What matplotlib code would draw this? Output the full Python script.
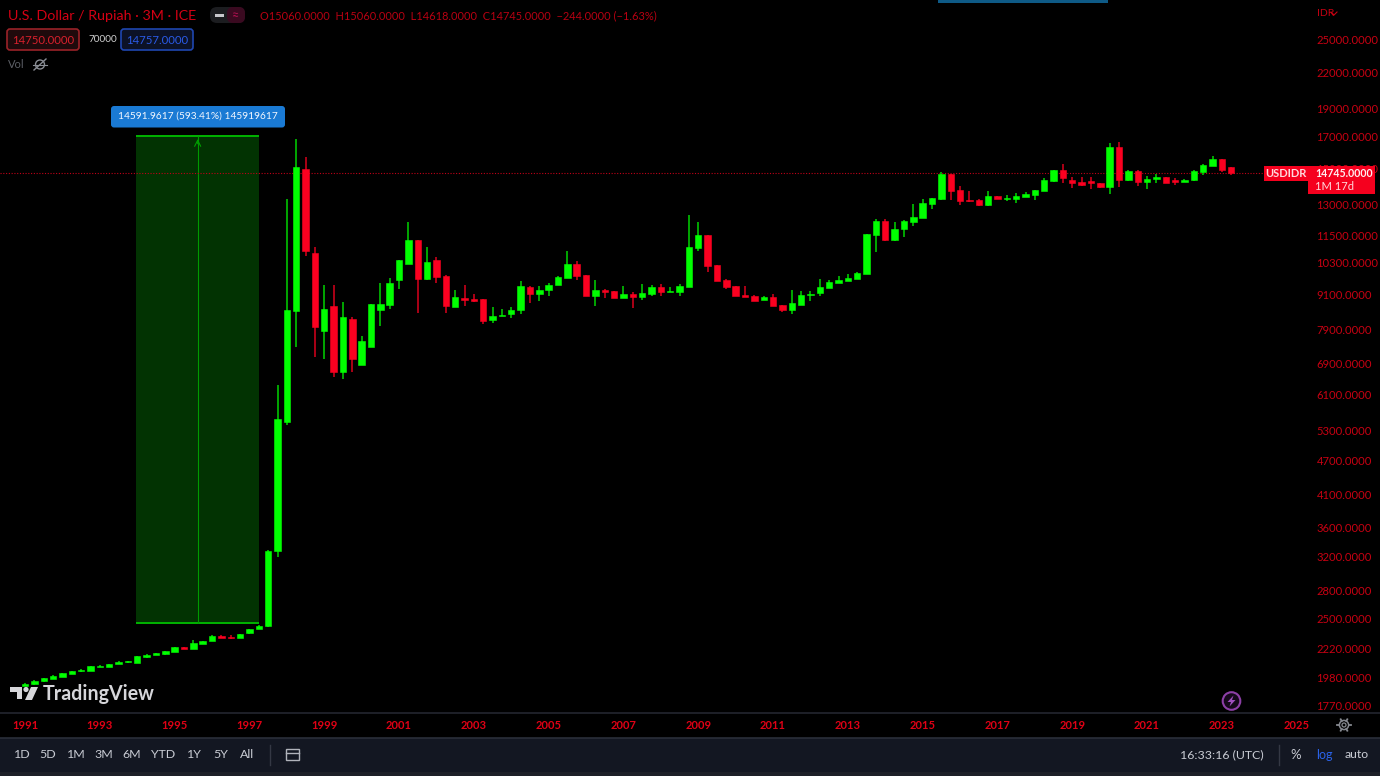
import numpy as np
import matplotlib
matplotlib.use("Agg")
import matplotlib.pyplot as plt
from matplotlib.patches import Rectangle, FancyBboxPatch, Circle, Polygon

plt.rcParams['font.family'] = ['Lato', 'DejaVu Sans']

# quarterly USDIDR candles, first one is 1991 Q1
firstYear = 1991
opens = [1915, 1927, 1950, 1968, 1985, 2012, 2030, 2035, 2065, 2066,
         2092, 2106, 2100, 2145, 2170, 2172, 2192, 2232, 2222, 2262,
         2288, 2340, 2326, 2316, 2360, 2400, 2432, 3270, 5480, 8508,
         14948, 10717, 7866, 8680, 6675, 8241, 6854, 7383, 8541, 8722,
         9623, 10268, 11283, 9673, 10408, 9780, 8645, 8970, 8934, 8912,
         8218, 8340, 8419, 8541, 9372, 9115, 9237, 9425, 9700, 10256,
         9807, 9032, 9248, 9212, 8948, 9115, 8984, 9104, 9372, 9165,
         9187, 9372, 10918, 11525, 10215, 9623, 9410, 9068, 9032, 8877,
         8984, 8702, 8531, 8712, 9068, 9140, 9342, 9522, 9585, 9662,
         9858, 11497, 12156, 11297, 11775, 12122, 12317, 13021, 13265, 14657,
         13750, 13245, 13213, 12973, 13445, 13283, 13283, 13391, 13512, 13696,
         14269, 14889, 14354, 14213, 14252, 14140, 13951, 16316, 14325, 14865,
         14230, 14383, 14499, 14325, 14230, 14325, 14807, 15148, 15555, 15060]
closes = [1932, 1955, 1975, 1995, 2018, 2032, 2042, 2070, 2075, 2090,
          2110, 2113, 2155, 2170, 2180, 2198, 2232, 2222, 2268, 2288,
          2340, 2322, 2314, 2352, 2400, 2432, 3270, 5540, 8540, 15070,
          10815, 7974, 8575, 6675, 8297, 7020, 7559, 8737, 8757, 9510,
          10408, 11283, 9650, 10338, 9753, 8690, 8984, 8898, 8852, 8176,
          8340, 8376, 8541, 9398, 9115, 9260, 9447, 9753, 10268, 9792,
          9022, 9237, 9176, 8959, 9104, 8995, 9140, 9372, 9176, 9212,
          9398, 10975, 11525, 10165, 9585, 9360, 9022, 8995, 8862, 8984,
          8680, 8531, 8772, 9057, 9115, 9372, 9567, 9623, 9700, 9909,
          11543, 12170, 11297, 11803, 12170, 12366, 13057, 13321, 14657, 13712,
          13193, 13162, 12973, 13445, 13283, 13337, 13445, 13553, 13750, 14308,
          14889, 14441, 14174, 14062, 14140, 13951, 16316, 14325, 14865, 14230,
          14400, 14499, 14174, 14230, 14342, 14848, 15208, 15555, 14924, 14745]
highs = [1935, 1958, 1978, 1998, 2020, 2034, 2048, 2072, 2082, 2092,
         2112, 2118, 2157, 2172, 2184, 2200, 2235, 2234, 2300, 2290,
         2342, 2342, 2345, 2354, 2402, 2445, 3290, 6340, 13260, 16860,
         15710, 10960, 9435, 9435, 8817, 8297, 7690, 8737, 9510, 9690,
         10408, 12108, 11283, 10960, 10560, 9820, 9248, 9435, 9104, 8912,
         8655, 8586, 8655, 9575, 9398, 9387, 9500, 9780, 10800, 10391,
         9807, 9623, 9285, 9212, 9387, 9165, 9485, 9425, 9485, 9349,
         9485, 12480, 12108, 11525, 10215, 9650, 9410, 9387, 9068, 9022,
         9093, 8702, 9248, 9222, 9222, 9650, 9611, 9780, 9870, 9936,
         11571, 12253, 12253, 12122, 12218, 13007, 13265, 13353, 14773, 14692,
         14006, 13696, 13265, 13728, 13445, 13499, 13588, 13642, 13783, 14424,
         14924, 15249, 14482, 14482, 14500, 14140, 16580, 16685, 14906, 14906,
         14557, 14657, 14516, 14441, 14383, 14906, 15269, 15744, 15555, 15060]
lows = [1912, 1925, 1948, 1966, 1983, 2010, 2028, 2033, 2062, 2064,
        2090, 2098, 2098, 2143, 2168, 2170, 2190, 2220, 2220, 2260,
        2286, 2320, 2312, 2314, 2358, 2398, 2425, 3200, 5400, 7380,
        10590, 7076, 7036, 6535, 6498, 6667, 6854, 7383, 8026, 8565,
        9285, 10268, 8432, 9623, 9500, 8432, 8645, 8690, 8817, 8080,
        8122, 8340, 8284, 8419, 8792, 8862, 9022, 9425, 9700, 9623,
        9022, 8680, 8970, 8959, 8948, 8622, 8898, 9032, 9032, 9165,
        9043, 9372, 10815, 9924, 9585, 9285, 9022, 8995, 8862, 8877,
        8680, 8485, 8419, 8712, 8842, 9032, 9312, 9522, 9585, 9662,
        9858, 10745, 11240, 11240, 11433, 11930, 12317, 12780, 13245, 13245,
        12985, 13110, 12905, 12905, 13283, 13162, 13089, 13391, 13245, 13696,
        14230, 14174, 13861, 14006, 13839, 13861, 13566, 13917, 14285, 14006,
        13839, 14174, 14140, 14062, 14230, 14285, 14615, 15148, 14773, 14618]

priceTicks = [25000, 22000, 19000, 17000, 15000, 13000, 11500, 10300, 9100, 7900, 6900,
              6100, 5300, 4700, 4100, 3600, 3200, 2800, 2500, 2220, 1980, 1770]
yearTicks = [1991, 1993, 1995, 1997, 1999, 2001, 2003, 2005, 2007, 2009, 2011, 2013,
             2015, 2017, 2019, 2021, 2023, 2025]
lastPrice = 14745

# long position drawing
measureFrom = 2459
measureTo = 17051
measureStart = 1993.97
measureEnd = 1997.26

GREEN = '#00ff00'
RED = '#fb0020'
GREENWICK = '#00b400'
REDWICK = '#b80018'
AXISRED = '#c80012'
W, H = 1380, 776

fig = plt.figure(figsize=(W / 100, H / 100), dpi=100, facecolor='black')
ax = fig.add_axes([0, (H - 713) / H, 1315 / W, 713 / H], facecolor='black')
ax.set_yscale('log')
ax.set_xlim(1990.33, 2025.49)
ax.set_ylim(1720, 29310)

dates = firstYear + np.arange(len(opens)) * 0.25
o = np.array(opens)
c = np.array(closes)
up = c >= o
wickColors = [GREENWICK if u else REDWICK for u in up]
bodyColors = [GREEN if u else RED for u in up]

# measure box first so candles sit on top
ax.add_patch(Rectangle((measureStart, measureFrom), measureEnd - measureStart, measureTo - measureFrom,
                       facecolor='#023302', edgecolor='none', zorder=1))
ax.hlines([measureFrom, measureTo], measureStart, measureEnd, color='#00b400', lw=1.4, zorder=2)
midX = (measureStart + measureEnd) / 2
ax.vlines(midX, measureFrom, measureTo, color='#009a00', lw=0.8, zorder=2)
ax.annotate('', xy=(midX, measureTo), xytext=(midX, measureTo * 0.96),
            arrowprops=dict(arrowstyle='->', color='#00a000', lw=0.8, mutation_scale=11), zorder=2)

ax.axhline(lastPrice, color='#c00018', lw=0.8, ls=(0, (1, 1.5)), zorder=2)
ax.vlines(dates, lows, highs, color=wickColors, lw=1.3, zorder=3)
ax.bar(dates, np.abs(c - o), bottom=np.minimum(o, c), width=0.172, color=bodyColors,
       edgecolor=bodyColors, linewidth=0.4, zorder=4)

ax.yaxis.tick_right()
ax.set_yticks(priceTicks)
ax.set_yticklabels([f"{v}.0000" for v in priceTicks])
ax.minorticks_off()
ax.set_xticks(yearTicks)
ax.set_xticklabels([str(y) for y in yearTicks], fontweight='bold')
ax.tick_params(axis='y', length=0, pad=1, labelsize=8.1, labelcolor=AXISRED)
ax.tick_params(axis='x', length=0, pad=5, labelsize=8, labelcolor='#e00015')
for s in ax.spines.values():
    s.set_visible(False)

# screen furniture in pixel coordinates
hud = fig.add_axes([0, 0, 1, 1], facecolor='none')
hud.set_xlim(0, W)
hud.set_ylim(H, 0)
hud.axis('off')


def label(x, y, s, color, size=8, ha='left', **kw):
    hud.text(x, y, s, color=color, fontsize=size, ha=ha, va='center', **kw)


def rbox(x0, y0, x1, y1, face, edge='none', lw=1, r=3):
    hud.add_patch(FancyBboxPatch((x0 + r, y0 + r), x1 - x0 - 2 * r, y1 - y0 - 2 * r,
                                 boxstyle=f"round,pad={r},rounding_size={r}",
                                 facecolor=face, edgecolor=edge, lw=lw))


# header
label(8, 15.5, "U.S. Dollar / Rupiah · 3M · ICE", '#d40014', 10.3)
rbox(210, 7, 245, 23, '#1c1d20', r=7)
rbox(227, 7, 245, 23, '#3a0a20', r=6)
hud.add_patch(Rectangle((215, 13.5), 9, 3.5, facecolor='#c8c8cc'))
label(236, 15, "≈", '#b01050', 9, ha='center')
label(260, 16, "O15060.0000  H15060.0000  L14618.0000  C14745.0000  −244.0000 (−1.63%)", '#b80012', 7.95)
rbox(7, 29, 79, 50, '#1f0a0c', '#9a2228', 1.2)
label(43, 40, "14750.0000", '#d8202c', 8.2, ha='center')
label(88, 40, "70000", '#d0d0d0', 7.2)
rbox(121, 29, 193, 50, '#0c1226', '#1f46b0', 1.2)
label(157, 40, "14757.0000", '#2a5ae6', 8.2, ha='center')
label(8, 65, "Vol", '#5c5f66', 8)
hud.add_patch(Circle((40, 64.5), 4.5, facecolor='none', edgecolor='#8a8d94', lw=1))
hud.plot([34, 46], [70, 59], color='#8a8d94', lw=1)
hud.plot([33, 47], [64.5, 64.5], color='#8a8d94', lw=0.8)

# top edge of a clipped dialog
hud.add_patch(Rectangle((938, 0), 170, 3, facecolor='#0e5a86'))
label(1317, 13, "IDR", '#c80012', 7.5)
hud.plot([1331, 1334, 1337], [12, 15, 12], color='#c80012', lw=0.8)

# measure label
rbox(111, 106, 285, 127.5, '#1a7ad4', r=3)
label(198, 116.5, "14591.9617 (593.41%) 145919617", '#f4f8ff', 7.3, ha='center')

# last price tag
hud.add_patch(Rectangle((1264, 166), 44, 15, facecolor='#f5001e'))
hud.add_patch(Rectangle((1308, 166), 67, 28, facecolor='#f5001e'))
label(1286, 173.5, "USDIDR", '#ffd8dc', 8, ha='center', fontweight='bold')
label(1315, 173.5, "14745.0000", '#ffeef0', 7.6, fontweight='bold')
label(1315, 187, "1M 17d", '#ffd8dc', 8)

# TradingView mark
logoColor = '#d6d6da'
hud.add_patch(Polygon([(10, 687), (22, 687), (22, 699), (17, 699), (17, 692), (10, 692)], facecolor=logoColor))
hud.add_patch(Circle((26, 689.5), 2.6, facecolor=logoColor))
hud.add_patch(Polygon([(31, 687), (38, 687), (32, 700), (25, 700)], facecolor=logoColor))
label(43, 694, "TradingView", logoColor, 14.1, fontweight='bold')

# lightning button
hud.add_patch(Circle((1231.5, 701), 8.8, facecolor='#14081a', edgecolor='#8c3fa6', lw=1.5))
hud.add_patch(Polygon([(1233.5, 695.5), (1227.5, 702), (1231, 702), (1229.5, 706.5), (1235.5, 700), (1232, 700)],
                      facecolor='#a050c0'))

# bottom bars
hud.plot([0, W], [713, 713], color='#23262f', lw=1.2)
hud.add_patch(Rectangle((0, 738), W, 34, facecolor='#131722', edgecolor='none'))
hud.add_patch(Rectangle((0, 772), W, 4, facecolor='#1d2028', edgecolor='none'))
hud.plot([0, W], [737.5, 737.5], color='#2a2e39', lw=1.2)
for x, s in zip([22, 48, 76, 104, 132, 163, 194, 221, 247],
                ["1D", "5D", "1M", "3M", "6M", "YTD", "1Y", "5Y", "All"]):
    label(x, 755, s, '#c9ccd4', 8.9, ha='center')
hud.plot([270, 270], [745, 765], color='#343844', lw=1)
hud.add_patch(Rectangle((286, 749), 13, 11, facecolor='none', edgecolor='#b0b3bb', lw=1))
hud.plot([286, 299], [753, 753], color='#b0b3bb', lw=1)
label(1264, 755, "16:33:16 (UTC)", '#c9ccd4', 8.9, ha='right')
hud.plot([1279, 1279], [745, 765], color='#343844', lw=1)
label(1296, 755, "%", '#c9ccd4', 9.5, ha='center')
label(1324, 755, "log", '#2a62e8', 9, ha='center')
label(1357, 755, "auto", '#c9ccd4', 8.8, ha='center')

# settings gear
hud.add_patch(Circle((1344, 725), 4.6, facecolor='none', edgecolor='#85888f', lw=1.1))
hud.add_patch(Circle((1344, 725), 2, facecolor='none', edgecolor='#85888f', lw=0.9))
for a in np.arange(0, 360, 60):
    dx, dy = np.cos(np.radians(a)), np.sin(np.radians(a))
    hud.plot([1344 + 4.6 * dx, 1344 + 6.6 * dx], [725 + 4.6 * dy, 725 + 6.6 * dy], color='#85888f', lw=1.3)

fig.savefig("out.png", dpi=100, facecolor='black')
